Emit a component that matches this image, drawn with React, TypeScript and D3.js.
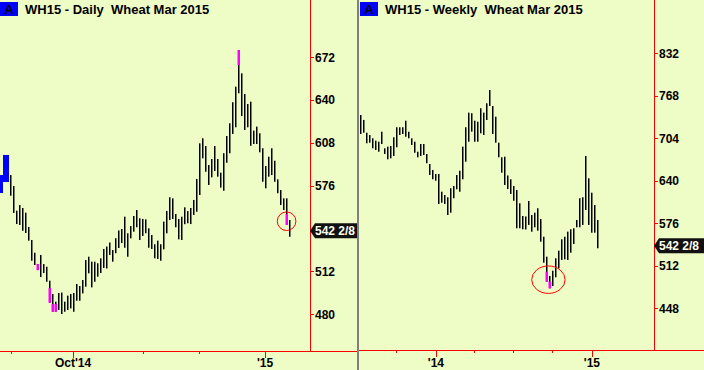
import React from 'react';
import * as d3 from 'd3';

// ---------- DATA ----------
const dailyHigh = [583.8, 598.8, 598.8, 583.8, 575.6, 557.2, 561.4, 559.2, 555.7, 545.0,
  535.3, 525.8, 517.3, 524.1, 517.3, 515.3, 504.9, 494.9, 489.2, 495.7,
  496.0, 489.2, 493.7, 494.9, 495.7, 502.4, 500.9, 505.4, 520.3, 522.8,
  519.1, 519.1, 517.9, 521.6, 528.6, 530.4, 533.4, 527.8, 536.6, 542.4,
  543.5, 552.7, 540.3, 545.7, 553.2, 557.7, 551.5, 551.0, 550.7, 544.0,
  539.0, 532.1, 534.8, 532.1, 549.0, 557.0, 567.2, 566.4, 554.7, 551.0,
  552.7, 559.7, 556.9, 559.2, 565.2, 580.9, 607.5, 611.3, 605.5, 591.3,
  595.8, 605.5, 595.8, 585.6, 600.1, 613.0, 622.5, 638.2, 649.8, 677.2,
  659.8, 644.4, 636.9, 638.6, 617.0, 620.0, 615.0, 603.8, 590.6, 597.5,
  603.8, 594.5, 580.6, 572.6, 566.4, 566.4, 550.2];
const dailyLow = [570.4, 578.6, 578.6, 568.4, 555.5, 547.2, 546.5, 542.2, 540.5, 534.8,
  519.8, 516.6, 512.8, 507.6, 510.6, 504.1, 488.4, 481.7, 481.7, 483.0,
  480.0, 481.7, 483.0, 484.2, 481.7, 489.9, 489.9, 495.4, 500.4, 510.4,
  499.9, 504.1, 507.9, 510.6, 514.4, 514.0, 524.1, 519.1, 525.4, 529.3,
  533.0, 529.5, 522.8, 536.5, 541.5, 544.8, 535.3, 538.3, 540.3, 529.5,
  528.6, 521.6, 521.1, 519.8, 528.3, 540.3, 550.2, 551.0, 544.8, 535.8,
  535.3, 547.1, 547.8, 547.2, 554.0, 556.4, 568.9, 596.3, 586.3, 576.4,
  582.1, 586.8, 582.6, 574.4, 572.1, 593.0, 600.1, 614.5, 619.5, 644.9,
  627.9, 617.5, 619.5, 605.7, 607.0, 607.0, 600.8, 578.8, 573.9, 582.6,
  583.8, 578.8, 570.2, 561.4, 557.7, 546.5, 537.7];
// highlighted segments: [bar index, high, low, colour]
const dailyMarks: [number, number, number, string][] = [
  [0, 583.8, 570.4, '#0000ff'], [1, 598.8, 578.6, '#0000ff'], [2, 598.8, 578.6, '#0000ff'],
  [12, 517.3, 512.8, '#ff00ff'], [16, 499.4, 488.4, '#ff00ff'], [17, 487.5, 481.7, '#ff00ff'],
  [18, 487.5, 481.7, '#ff00ff'], [79, 677.2, 666.0, '#ff00ff'], [95, 554.7, 546.5, '#ff00ff'],
];
const dailyTickIdx = [3.2, 23.9, 47.2, 65.9, 87.9];
const dailyTickLabels = ['', "Oct'14", '', '', "'15"];
const dailyYTicks = [480, 512, 576, 608, 640, 672];
const dailyCircle = { idx: 95.1, price: 549.3 };

const weeklyHigh = [739.1, 731.6, 712.4, 708.9, 704.0, 700.4, 698.9, 713.9, 688.9, 691.4,
  692.4, 705.5, 720.6, 720.6, 720.6, 730.5, 713.9, 704.0, 698.9, 683.8,
  695.4, 695.4, 680.4, 665.3, 656.3, 650.3, 650.3, 623.6, 618.6, 615.2,
  628.7, 632.2, 648.7, 655.2, 691.4, 720.6, 742.6, 741.7, 730.5, 729.0,
  749.2, 742.6, 756.7, 776.7, 752.6, 736.5, 697.4, 675.4, 676.3, 648.0,
  642.3, 632.2, 626.2, 606.1, 587.0, 586.3, 609.6, 588.5, 592.0, 598.6,
  582.5, 555.8, 525.7, 496.7, 504.6, 523.3, 534.8, 551.9, 555.8, 563.4,
  567.0, 568.5, 581.0, 613.7, 615.2, 677.4, 643.8, 622.1, 603.6, 581.0];
const weeklyLow = [710.5, 712.4, 696.5, 697.4, 688.9, 686.4, 683.8, 695.4, 680.4, 672.4,
  673.9, 677.4, 690.5, 709.0, 710.5, 706.4, 704.0, 693.9, 682.3, 675.4,
  677.4, 678.9, 666.4, 648.8, 642.3, 640.2, 605.1, 607.0, 605.1, 588.5,
  592.0, 613.7, 627.2, 623.6, 642.3, 668.8, 698.9, 714.0, 698.9, 698.9,
  711.5, 709.0, 731.6, 752.6, 710.5, 697.4, 675.4, 652.2, 633.7, 627.7,
  620.1, 610.0, 568.5, 568.5, 567.0, 566.7, 573.5, 563.4, 570.0, 564.9,
  548.3, 516.7, 488.1, 478.1, 481.6, 494.7, 508.3, 520.8, 521.8, 520.8,
  531.7, 544.8, 570.0, 570.0, 573.5, 596.0, 573.5, 561.9, 561.9, 538.4];
const weeklyMarks: [number, number, number, string][] = [
  [62, 503.1, 488.1, '#ff00ff'], [63, 488.1, 478.1, '#ff00ff'],
];
const weeklyTickIdx = [11.9, 25.2, 37.9, 50.9, 63.9, 77.2];
const weeklyTickLabels = ['', "'14", '', '', '', "'15"];
const weeklyYTicks = [448, 512, 576, 640, 704, 768, 832];
const weeklyCircle = { idx: 62.7, price: 491.1 };

const lastPrice = 542.25;
const lastLabel = '542 2/8';
const dailyTitle = 'WH15 - Daily  Wheat Mar 2015';
const weeklyTitle = 'WH15 - Weekly  Wheat Mar 2015';

// ---------- STYLE ----------
const BG = '#eefcc6';
const RED = '#ff0000';
const FONT = '"Liberation Sans", Arial, Helvetica, sans-serif';

type PanelProps = {
  left: number; right: number; axisX: number; axisY: number;
  xRange: [number, number]; yDomain: [number, number]; yRange: [number, number];
  high: number[]; low: number[]; marks: [number, number, number, string][];
  tickIdx: number[]; tickLabels: string[]; yTicks: number[];
  circle: { idx: number; price: number }; crx: number; cry: number;
  title: string;
};

function Panel(p: PanelProps) {
  const x = d3.scaleLinear().domain([0, p.high.length - 1]).range(p.xRange);
  const y = d3.scaleLinear().domain(p.yDomain).range(p.yRange);
  const cy = y(lastPrice);
  const lw = p.right - p.axisX;
  return (
    <g>
      {/* title */}
      <rect x={p.left} y={2} width={18} height={14} fill="#0000ff" />
      <text x={p.left + 9} y={14} textAnchor="middle" fontFamily={FONT} fontWeight="bold" fontSize={13} fill="#000">A</text>
      <text x={p.left + 25} y={14} fontFamily={FONT} fontWeight="bold" fontSize={13} fill="#000" style={{ whiteSpace: 'pre' }}>{p.title}</text>
      {/* bars */}
      {p.high.map((h, i) => (
        <rect key={'b' + i} x={Math.round(x(i))} y={y(h)} width={1.5} height={Math.max(1, y(p.low[i]) - y(h))} fill="#000" />
      ))}
      {p.marks.map(([i, h, l, c], k) => (
        <rect key={'m' + k} x={Math.round(x(i)) - (c === '#0000ff' ? 1 : 0.5)} y={y(h)} width={c === '#0000ff' ? 3 : 2.5} height={y(l) - y(h)} fill={c} />
      ))}
      <ellipse cx={x(p.circle.idx)} cy={y(p.circle.price)} rx={p.crx} ry={p.cry} fill="none" stroke={RED} strokeWidth={1} />
      {/* axes */}
      <line x1={p.axisX + 0.5} x2={p.axisX + 0.5} y1={0} y2={p.axisY} stroke={RED} strokeWidth={1} />
      <line x1={p.left - 2} x2={p.right} y1={p.axisY + 0.5} y2={p.axisY + 0.5} stroke={RED} strokeWidth={1} />
      {p.yTicks.map((v) => (
        <g key={'y' + v}>
          <line x1={p.axisX} x2={p.axisX + 4} y1={Math.round(y(v)) + 0.5} y2={Math.round(y(v)) + 0.5} stroke={RED} />
          <text x={p.axisX + 5} y={y(v) + 4.5} fontFamily={FONT} fontWeight="bold" fontSize={12} fill="#000">{v}</text>
        </g>
      ))}
      {p.tickIdx.map((t, k) => (
        <g key={'x' + k}>
          <line x1={Math.round(x(t)) + 0.5} x2={Math.round(x(t)) + 0.5} y1={p.axisY} y2={p.axisY + (p.tickLabels[k] ? 7 : 3)} stroke={RED} />
          {p.tickLabels[k] && (
            <text x={x(t)} y={367} textAnchor="middle" fontFamily={FONT} fontWeight="bold" fontSize={12} fill="#000">{p.tickLabels[k]}</text>
          )}
        </g>
      ))}
      {/* last price label */}
      <path d={`M${p.axisX},${cy} L${p.axisX + 5},${cy - 7.5} L${p.axisX + lw},${cy - 7.5} L${p.axisX + lw},${cy + 7.5} L${p.axisX + 5},${cy + 7.5} Z`} fill="#111" />
      <text x={p.axisX + 5} y={cy + 4.5} fontFamily={FONT} fontWeight="bold" fontSize={12} fill="#ffffee">{lastLabel}</text>
    </g>
  );
}

export default function App() {
  return (
    <svg width={704} height={370} style={{ position: 'absolute', left: 0, top: 0, display: 'block' }}>
      <rect x={0} y={0} width={704} height={370} fill={BG} />
      <Panel left={0} right={358} axisX={310} axisY={351} xRange={[1.3, 289.3]} yDomain={[480, 672]} yRange={[314, 57]}
        high={dailyHigh} low={dailyLow} marks={dailyMarks} tickIdx={dailyTickIdx} tickLabels={dailyTickLabels}
        yTicks={dailyYTicks} circle={dailyCircle} crx={9.3} cry={9.3} title={dailyTitle} />
      <Panel left={360} right={704} axisX={654} axisY={350} xRange={[360.3, 597.3]} yDomain={[448, 832]} yRange={[308.3, 53.3]}
        high={weeklyHigh} low={weeklyLow} marks={weeklyMarks} tickIdx={weeklyTickIdx} tickLabels={weeklyTickLabels}
        yTicks={weeklyYTicks} circle={weeklyCircle} crx={16.7} cry={13.7} title={weeklyTitle} />
      <line x1={358} x2={358} y1={0} y2={370} stroke="#808080" strokeWidth={2} />
    </svg>
  );
}
